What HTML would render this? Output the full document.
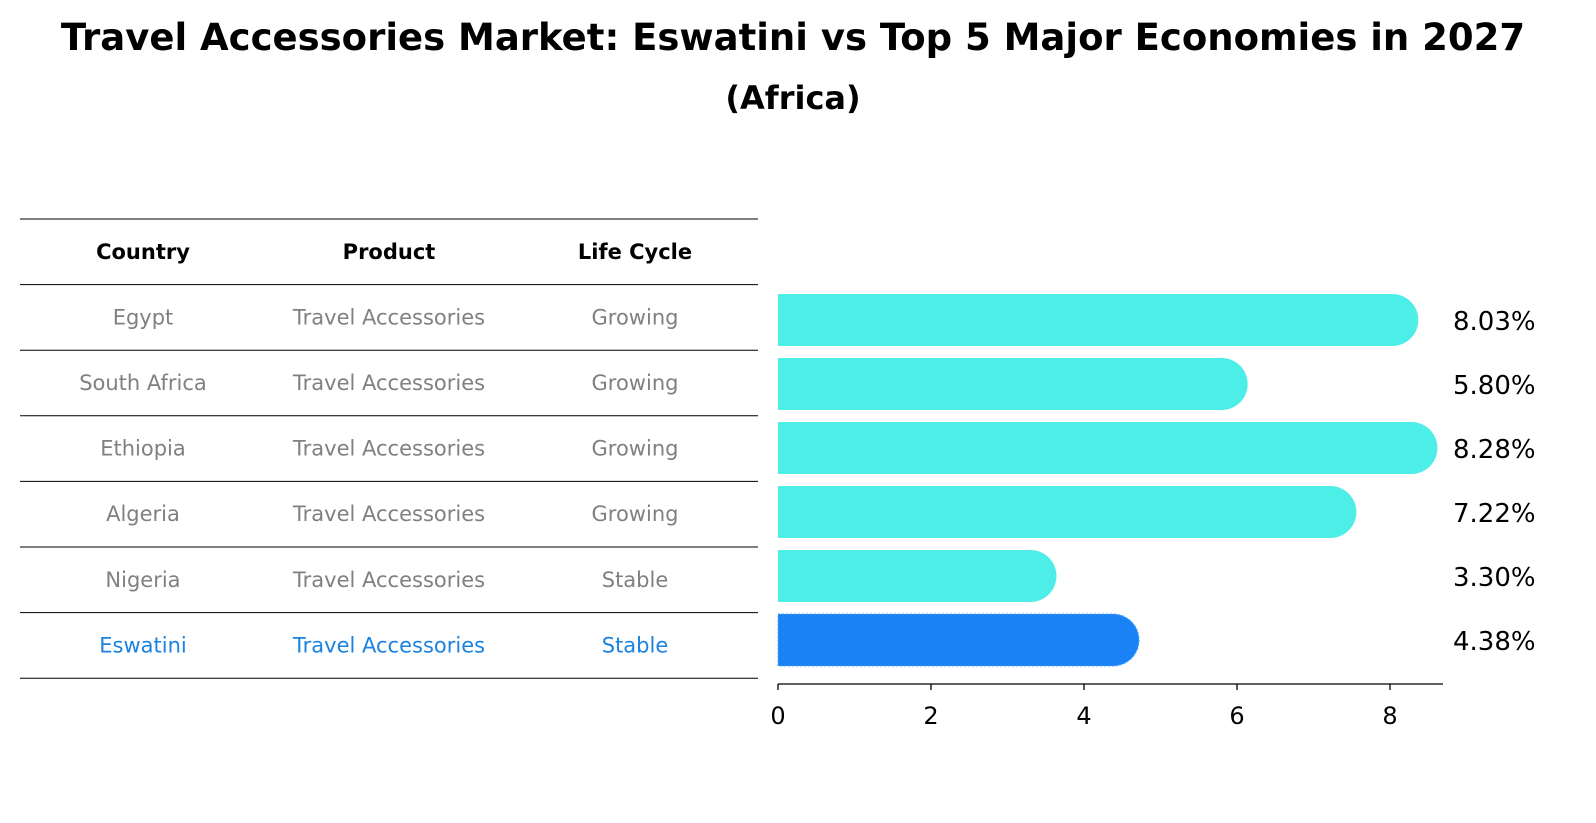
<!DOCTYPE html>
<html><head><meta charset="utf-8"><style>
body{margin:0;background:#fff;}
svg{display:block;font-family:"DejaVu Sans","Liberation Sans",sans-serif;}
</style></head><body>
<svg width="1596" height="823">
<text x="793" y="50" text-anchor="middle" font-size="37" font-weight="bold">Travel Accessories Market: Eswatini vs Top 5 Major Economies in 2027</text>
<text x="793" y="109" text-anchor="middle" font-size="32" font-weight="bold">(Africa)</text>
<g id="table"></g>
<g id="bars"></g>
</svg>
<script>
const countries=["Egypt","South Africa","Ethiopia","Algeria","Nigeria","Eswatini"];
const products=["Travel Accessories","Travel Accessories","Travel Accessories","Travel Accessories","Travel Accessories","Travel Accessories"];
const lifeCycles=["Growing","Growing","Growing","Growing","Stable","Stable"];
const values=[8.03,5.80,8.28,7.22,3.30,4.38];
const ticks=[0,2,4,6,8];
const NS="http://www.w3.org/2000/svg";
function mk(t,a,p){const e=document.createElementNS(NS,t);for(const k in a)e.setAttribute(k,a[k]);p.appendChild(e);return e;}
const tb=document.getElementById('table'),bg=document.getElementById('bars');
const rowTop=219,rowH=65.6,colX=[143,389,635];
const headers=["Country","Product","Life Cycle"];
headers.forEach((h,i)=>{const t=mk('text',{x:colX[i],y:rowTop+rowH/2+7,'text-anchor':'middle','font-size':21,'font-weight':'bold'},tb);t.textContent=h;

});
for(let r=0;r<=countries.length+1;r++){const l=mk('line',{x1:20,x2:758,y1:rowTop+r*rowH,y2:rowTop+r*rowH,stroke:'#000','stroke-width':1},tb);

}
countries.forEach((c,r)=>{const col=c==="Eswatini"?"#1a82e0":"#808080";
[c,products[r],lifeCycles[r]].forEach((v,i)=>{const t=mk('text',{x:colX[i],y:rowTop+(r+1.5)*rowH+7,'text-anchor':'middle','font-size':21,fill:col},tb);t.textContent=v;

});});
const x0=778,ppu=76.5;const X=v=>x0+v*ppu;
const barTop=294,pitch=64,bh=52;
values.forEach((v,i)=>{const y=barTop+i*pitch;const col=countries[i]==="Eswatini"?"#1a82f4":"#4deee8";
const p=mk('path',{d:`M${x0},${y} H${X(v)} A${bh/2},${bh/2} 0 0 1 ${X(v)},${y+bh} H${x0} Z`,fill:col},bg);
if(countries[i]==="Eswatini"){p.setAttribute('stroke','#4da6ff');p.setAttribute('stroke-dasharray','2,2');}


const t=mk('text',{x:1453,y:y+bh/2+10,'font-size':26},bg);t.textContent=v.toFixed(2)+"%";

});
const ax=mk('line',{x1:x0,x2:1443,y1:684,y2:684,stroke:'#000','stroke-width':1.3},bg);


ticks.forEach(v=>{const l=mk('line',{x1:X(v),x2:X(v),y1:684,y2:690,stroke:'#000','stroke-width':1.3},bg);


const t=mk('text',{x:X(v),y:724,'text-anchor':'middle','font-size':24},bg);t.textContent=v;

});
</script>
</body></html>
